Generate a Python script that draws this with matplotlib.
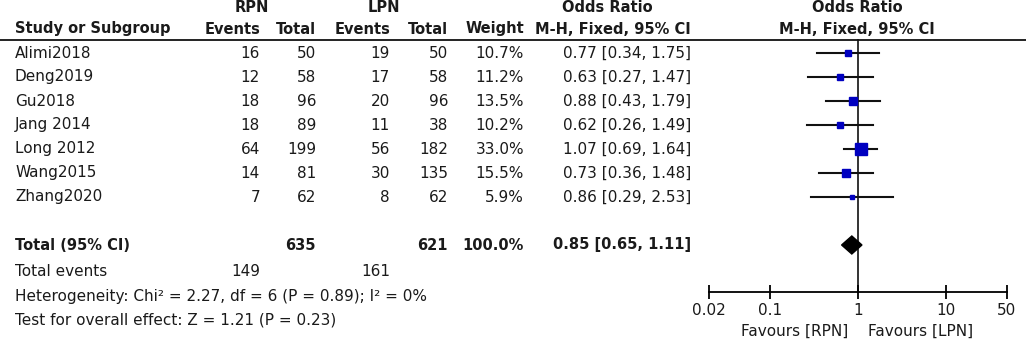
import matplotlib
matplotlib.use("Agg")
import matplotlib.pyplot as plt

plt.rcParams['font.family'] = ['DejaVu Sans']

studies = ['Alimi2018', 'Deng2019', 'Gu2018', 'Jang 2014', 'Long 2012', 'Wang2015', 'Zhang2020']
rpn_events = [16, 12, 18, 18, 64, 14, 7]
rpn_total = [50, 58, 96, 89, 199, 81, 62]
lpn_events = [19, 17, 20, 11, 56, 30, 8]
lpn_total = [50, 58, 96, 38, 182, 135, 62]
weights = [10.7, 11.2, 13.5, 10.2, 33.0, 15.5, 5.9]
odds = [0.77, 0.63, 0.88, 0.62, 1.07, 0.73, 0.86]
ci_low = [0.34, 0.27, 0.43, 0.26, 0.69, 0.36, 0.29]
ci_high = [1.75, 1.47, 1.79, 1.49, 1.64, 1.48, 2.53]

total_rpn, total_lpn = 635, 621
events_rpn, events_lpn = 149, 161
pooled_or, pooled_low, pooled_high = 0.85, 0.65, 1.11
heterogeneity = "Heterogeneity: Chi\u00b2 = 2.27, df = 6 (P = 0.89); I\u00b2 = 0%"
overall = "Test for overall effect: Z = 1.21 (P = 0.23)"
xticks = [0.02, 0.1, 1, 10, 50]
xtick_labels = ['0.02', '0.1', '1', '10', '50']

W, H = 1026, 343
fig = plt.figure(figsize=(W / 100, H / 100), dpi=100)
txt = fig.add_axes([0, 0, 1, 1])
txt.set_xlim(0, W)
txt.set_ylim(H, 0)
txt.axis('off')

fs = 11
fsb = 10.5
tc = '#1a1a1a'
row_y = [53 + 24 * i for i in range(len(studies))]
y_total, y_events, y_het, y_test = 245, 271, 296, 320
cols = [260, 316, 390, 448, 524, 691]

# headers
hb = dict(fontsize=fsb, fontweight='bold', color=tc, va='center')
txt.text(252, 8, 'RPN', ha='center', **hb)
txt.text(384, 8, 'LPN', ha='center', **hb)
txt.text(607, 8, 'Odds Ratio', ha='center', **hb)
txt.text(857, 8, 'Odds Ratio', ha='center', **hb)
txt.text(15, 29, 'Study or Subgroup', ha='left', **hb)
for x, lab in zip(cols, ['Events', 'Total', 'Events', 'Total', 'Weight', 'M-H, Fixed, 95% CI']):
    txt.text(x, 29, lab, ha='right', **hb)
txt.text(857, 29, 'M-H, Fixed, 95% CI', ha='center', **hb)
txt.plot([0, W], [39.5, 39.5], color='#111111', lw=1.3)

# study rows
nb = dict(fontsize=fs, color=tc, va='center')
for i, y in enumerate(row_y):
    txt.text(15, y, studies[i], ha='left', **nb)
    vals = [rpn_events[i], rpn_total[i], lpn_events[i], lpn_total[i],
            f"{weights[i]:.1f}%", f"{odds[i]:.2f} [{ci_low[i]:.2f}, {ci_high[i]:.2f}]"]
    for x, v in zip(cols, vals):
        txt.text(x, y, str(v), ha='right', **nb)

# totals
txt.text(15, y_total, 'Total (95% CI)', ha='left', **hb)
txt.text(cols[1], y_total, str(total_rpn), ha='right', **hb)
txt.text(cols[3], y_total, str(total_lpn), ha='right', **hb)
txt.text(cols[4], y_total, f"{sum(weights):.1f}%", ha='right', **hb)
txt.text(cols[5], y_total, f"{pooled_or:.2f} [{pooled_low:.2f}, {pooled_high:.2f}]", ha='right', **hb)
txt.text(15, y_events, 'Total events', ha='left', **nb)
txt.text(cols[0], y_events, str(events_rpn), ha='right', **nb)
txt.text(cols[2], y_events, str(events_lpn), ha='right', **nb)
txt.text(15, y_het, heterogeneity, ha='left', **nb)
txt.text(15, y_test, overall, ha='left', **nb)

# forest panel
x0, x1 = 709, 1007
ax = fig.add_axes([x0 / W, 0, (x1 - x0) / W, 1])
ax.set_xscale('log')
ax.set_xlim(0.02, 50)
ax.set_ylim(H, 0)
ax.patch.set_alpha(0)
for s in ['top', 'left', 'right']:
    ax.spines[s].set_visible(False)
y_axis = 292
ax.spines['bottom'].set_position(('data', y_axis))
ax.spines['bottom'].set_linewidth(1.3)
ax.set_yticks([])
ax.set_xticks(xticks)
ax.set_xticklabels(xtick_labels)
ax.minorticks_off()
ax.tick_params(axis='x', direction='inout', length=10, width=1.3, pad=3,
               labelsize=fs, labelcolor=tc)

ax.plot([1, 1], [39.5, y_axis], color='#111111', lw=1.2, zorder=1)
for i, y in enumerate(row_y):
    ax.plot([ci_low[i], ci_high[i]], [y, y], color='#111111', lw=1.5, zorder=2)
    side = 12 * (weights[i] / 33.0) ** 0.6 * 0.72
    ax.plot(odds[i], y, marker='s', ms=side, color='#0000c0', mec='#0000c0', zorder=3)

ax.fill([pooled_low, pooled_or, pooled_high, pooled_or],
        [y_total, y_total - 9, y_total, y_total + 9], color='black', zorder=3)

txt.text(848, 331, 'Favours [RPN]', ha='right', **nb)
txt.text(868, 331, 'Favours [LPN]', ha='left', **nb)

fig.savefig('out.png', dpi=100)
